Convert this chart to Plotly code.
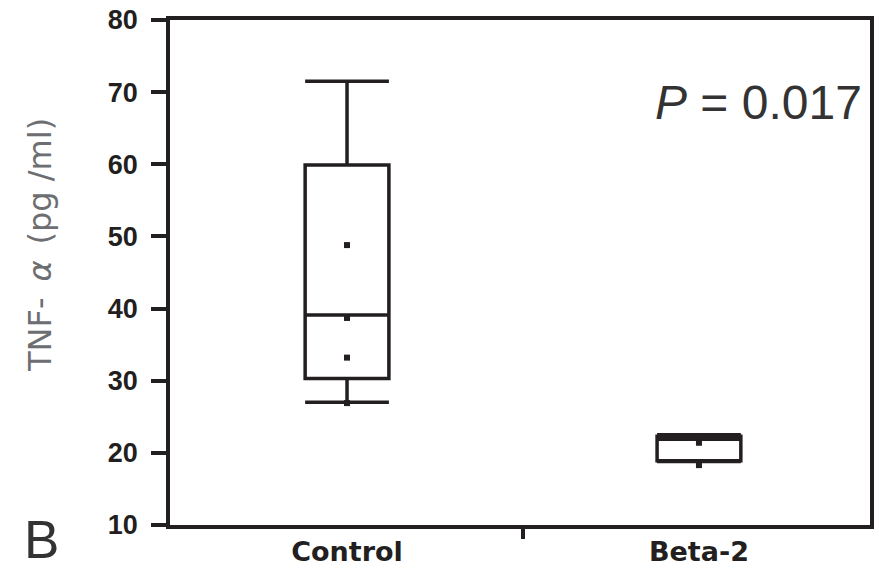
import plotly.graph_objects as go

# Group labels and summary statistics (TNF-alpha, pg/ml)
groups = ["Control", "Beta-2"]
lower_whisker = [27.0, 18.8]
q1_vals = [30.3, 18.9]
median_vals = [39.1, 21.9]
q3_vals = [59.9, 22.3]
upper_whisker = [71.5, 22.5]

# Individual observations shown as small dots
control_points = [48.8, 38.7, 33.2, 26.9]
beta2_points = [21.4, 18.3]

y_ticks = [10, 20, 30, 40, 50, 60, 70, 80]
y_title = "TNF-\u2002<i>α</i>\u2002(pg /ml)"
p_label = "<i>P</i> = 0.017"
panel_label = "B"

ink = "#231f20"
line_w = 3.5

fig = go.Figure()

for i, g in enumerate(groups):
    fig.add_trace(go.Box(
        x=[g],
        q1=[q1_vals[i]],
        median=[median_vals[i]],
        q3=[q3_vals[i]],
        lowerfence=[lower_whisker[i]],
        upperfence=[upper_whisker[i]],
        width=0.238,
        whiskerwidth=1,
        boxpoints=False,
        line=dict(color=ink, width=line_w),
        fillcolor="white",
        showlegend=False,
        hoverinfo="skip",
    ))

for g, pts in zip(groups, [control_points, beta2_points]):
    fig.add_trace(go.Scatter(
        x=[g] * len(pts),
        y=pts,
        mode="markers",
        marker=dict(symbol="square", size=6, color=ink),
        showlegend=False,
        hoverinfo="skip",
    ))

# Helper trace on an overlaid numeric axis that carries the separator tick
fig.add_trace(go.Scatter(
    x=[0.5], y=[10], xaxis="x2", mode="markers",
    marker=dict(opacity=0), showlegend=False, hoverinfo="skip",
))

x_range = [-0.503, 1.486]

fig.update_layout(
    width=879,
    height=573,
    margin=dict(l=170, r=9, t=20, b=48),
    paper_bgcolor="white",
    plot_bgcolor="white",
    xaxis=dict(
        type="category",
        categoryorder="array",
        categoryarray=groups,
        range=x_range,
        automargin=False,
        showline=True,
        linecolor=ink,
        linewidth=line_w,
        mirror=True,
        ticks="",
        showgrid=False,
        zeroline=False,
        tickfont=dict(family="DejaVu Sans, Liberation Sans", size=27,
                      weight="bold", color=ink),
        ticklabelstandoff=0,
    ),
    xaxis2=dict(
        overlaying="x",
        anchor="y",
        side="bottom",
        range=x_range,
        automargin=False,
        tickmode="array",
        tickvals=[0.5],
        ticks="outside",
        ticklen=13,
        tickwidth=line_w,
        tickcolor=ink,
        showticklabels=False,
        showline=False,
        showgrid=False,
        zeroline=False,
    ),
    yaxis=dict(
        range=[10, 80],
        automargin=False,
        tickmode="array",
        tickvals=y_ticks,
        ticks="outside",
        ticklen=15,
        tickwidth=line_w,
        tickcolor=ink,
        showline=True,
        linecolor=ink,
        linewidth=line_w,
        mirror=True,
        showgrid=False,
        zeroline=False,
        tickfont=dict(family="Liberation Sans, Arial", size=27,
                      weight="bold", color=ink),
        ticklabelstandoff=8,
    ),
    annotations=[
        dict(
            text=y_title,
            textangle=-90,
            xref="paper", yref="paper",
            x=(40 - 170) / 700, y=(525 - 245) / 505,
            xanchor="center", yanchor="middle",
            showarrow=False,
            font=dict(family="DejaVu Sans, Liberation Sans", size=32, color="#6d6e71"),
        ),
        dict(
            text=p_label,
            xref="paper", yref="y",
            x=0.991, y=68.5,
            xanchor="right", yanchor="middle",
            showarrow=False,
            font=dict(family="Liberation Sans, Arial", size=48, color="#333333"),
        ),
        dict(
            text=panel_label,
            xref="paper", yref="paper",
            x=(22 - 170) / 700, y=(525 - 571) / 505,
            xanchor="left", yanchor="bottom",
            showarrow=False,
            font=dict(family="Liberation Sans", size=53, color="#333333"),
        ),
    ],
)

fig.write_html("out.html")
